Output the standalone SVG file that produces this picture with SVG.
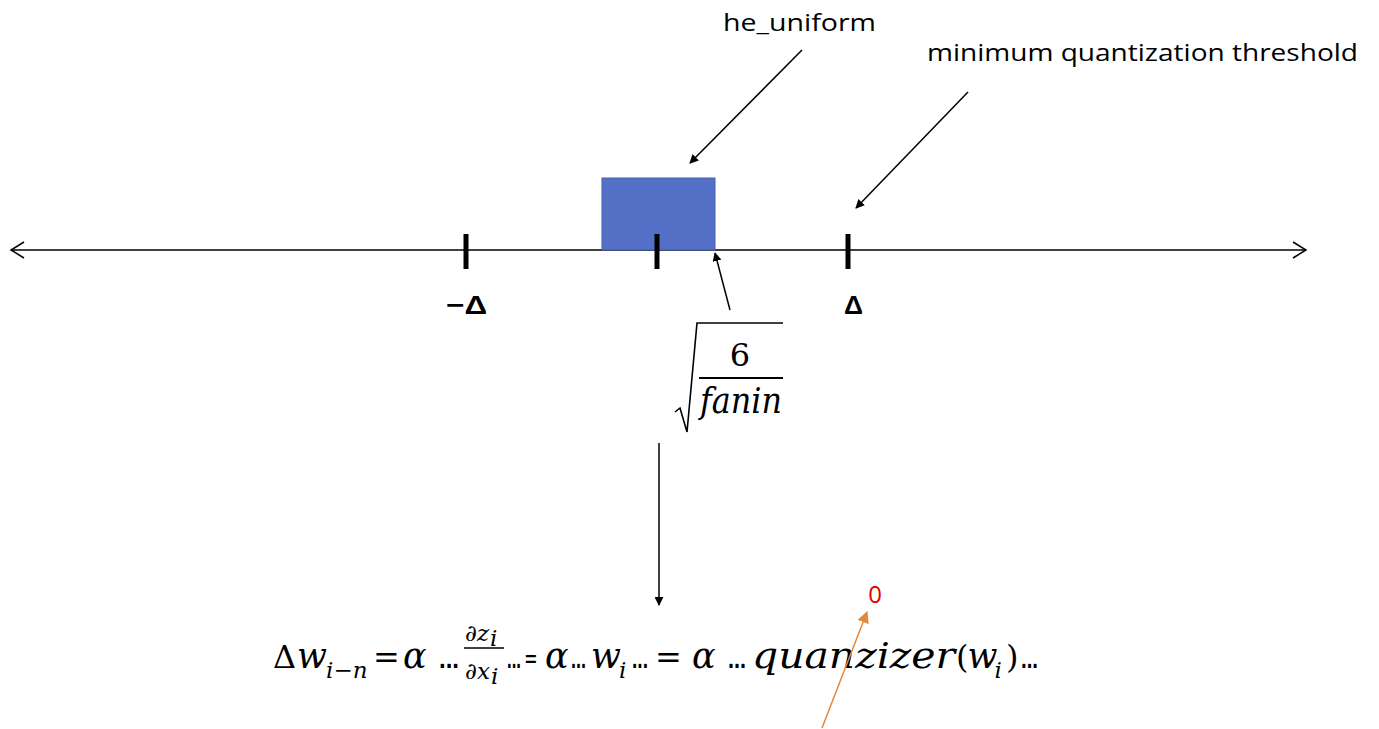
<svg xmlns="http://www.w3.org/2000/svg" width="1379" height="729" viewBox="0 0 1379 729">
<style>
.lbl{font-family:"Open Sans","Liberation Sans",sans-serif;font-size:24px;fill:#000}
.dl{font-family:"Liberation Sans","Open Sans",sans-serif;font-size:26px;font-weight:bold;fill:#000}
.m{font-family:"DejaVu Serif","Liberation Serif",serif;font-style:italic;font-weight:normal;font-size:35px;fill:#000}
.mu{font-family:"DejaVu Serif","Liberation Serif",serif;font-style:normal;font-size:32px;fill:#000}
.sub{font-family:"DejaVu Serif","Liberation Serif",serif;font-style:italic;font-size:23px;fill:#000}
.fr{font-family:"DejaVu Serif","Liberation Serif",serif;font-style:italic;font-size:23px;fill:#000}
.dots{font-family:"Liberation Sans",sans-serif;font-size:28px;font-weight:bold;fill:#000}
.ln{stroke:#000;stroke-width:1.5;fill:none}
.tick{stroke:#000;stroke-width:5}
</style>
<defs>
<marker id="ah" viewBox="0 0 10 10" refX="9" refY="5" markerWidth="9" markerHeight="9" markerUnits="userSpaceOnUse" orient="auto"><path d="M0,0L10,5L0,10z" fill="#000"/></marker>
<marker id="ao" viewBox="0 0 10 10" refX="9" refY="5" markerWidth="12" markerHeight="12" markerUnits="userSpaceOnUse" orient="auto"><path d="M0,0L10,5L0,10z" fill="#E0883E"/></marker>
</defs>
<g id="axis">
<line x1="11" y1="250" x2="1306" y2="250" class="ln"/>
<path d="M24,242L11,250L24,258" class="ln"/>
<path d="M1293,242L1306,250L1293,258" class="ln"/>
</g>
<g id="he_uniform_box">
<rect x="602" y="178" width="113" height="72" fill="#5470C6" stroke="#4560B0" stroke-width="1"/>
</g>
<g id="ticks">
<line x1="466" y1="234" x2="466" y2="269" class="tick"/>
<line x1="657" y1="234" x2="657" y2="269" class="tick"/>
<line x1="848" y1="234" x2="848" y2="269" class="tick"/>
</g>
<g id="tick_labels">
<text x="446" y="314" class="dl" textLength="41" lengthAdjust="spacingAndGlyphs">−Δ</text>
<text x="844" y="314" class="dl" textLength="19" lengthAdjust="spacingAndGlyphs">Δ</text>
</g>
<g id="label_he_uniform">
<text x="723" y="31" class="lbl" textLength="153" lengthAdjust="spacingAndGlyphs">he_uniform</text>
</g>
<g id="label_threshold">
<text x="927" y="61" class="lbl" textLength="431" lengthAdjust="spacingAndGlyphs">minimum quantization threshold</text>
</g>
<g id="sqrt_expr">
<path d="M675,412L680,408L687,432L697,323L783,323" stroke="#000" stroke-width="1.6" fill="none"/>
<text x="740" y="366" class="mu" text-anchor="middle">6</text>
<line x1="699" y1="378" x2="783" y2="378" stroke="#000" stroke-width="2"/>
<text x="700" y="413" class="m" textLength="82" lengthAdjust="spacingAndGlyphs">fanin</text>
</g>
<g id="equation">
<text x="273" y="668" class="mu">Δ<tspan class="m" dx="1">w</tspan><tspan class="sub" font-size="20" dy="10" dx="-1">i−n</tspan></text>
<text x="373" y="668" class="mu">=</text>
<text x="403" y="668" class="m">α</text>
<text x="439" y="668" class="dots" textLength="20" lengthAdjust="spacingAndGlyphs">...</text>
<text x="465" y="641" class="fr">∂z<tspan class="sub" font-size="16" dy="5" dx="1">i</tspan></text>
<line x1="464" y1="648" x2="504" y2="648" stroke="#000" stroke-width="1.3"/>
<text x="465" y="679" class="fr">∂x<tspan class="sub" font-size="16" dy="5" dx="1">i</tspan></text>
<text x="507" y="668" class="dots" textLength="14" lengthAdjust="spacingAndGlyphs">...</text>
<text x="525" y="666" font-family="Liberation Sans,sans-serif" font-size="20" font-weight="bold">=</text>
<text x="545" y="668" class="m">α</text>
<text x="571" y="668" class="dots" textLength="15" lengthAdjust="spacingAndGlyphs">...</text>
<text x="591" y="668" class="m">w<tspan class="sub" dy="10" dx="-2">i</tspan></text>
<text x="632" y="668" class="dots" textLength="16" lengthAdjust="spacingAndGlyphs">...</text>
<text x="655" y="668" class="mu">=</text>
<text x="692" y="668" class="m">α</text>
<text x="728" y="668" class="dots" textLength="18" lengthAdjust="spacingAndGlyphs">...</text>
<text x="752" y="668" class="m" textLength="203" lengthAdjust="spacingAndGlyphs">quanzizer</text>
<text x="956" y="668" class="mu">(<tspan class="m" dx="-1">w</tspan><tspan class="sub" font-size="20" dy="10" dx="-3">i</tspan></text>
<text x="1006" y="668" class="mu">)</text>
<text x="1021" y="668" class="dots" textLength="17" lengthAdjust="spacingAndGlyphs">...</text>
</g>
<g id="zero_label">
<text x="875" y="603" class="lbl" font-size="26" style="fill:#E00000" text-anchor="middle">0</text>
</g>
<g id="connectors">
<line x1="802" y1="50" x2="690" y2="163" class="ln" marker-end="url(#ah)"/>
<line x1="968" y1="92" x2="856" y2="208" class="ln" marker-end="url(#ah)"/>
<line x1="730" y1="310" x2="715" y2="253" class="ln" marker-end="url(#ah)"/>
<line x1="659" y1="443" x2="659" y2="605" class="ln" marker-end="url(#ah)"/>
<line x1="822" y1="728" x2="867" y2="612" stroke="#E0883E" stroke-width="1.5" marker-end="url(#ao)"/>
</g>
</svg>
